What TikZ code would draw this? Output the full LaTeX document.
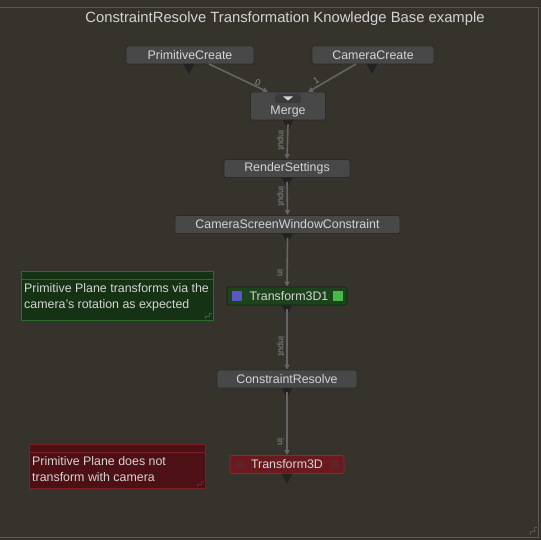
\documentclass[tikz,border=0pt]{standalone}
\usepackage{fontspec}
\setmainfont{Liberation Sans}
\usetikzlibrary{arrows.meta}
\definecolor{bgc}{HTML}{36332D}
\definecolor{framec}{HTML}{5A5750}
\definecolor{nodefill}{HTML}{484848}
\definecolor{nodeborder}{HTML}{2A2A2A}
\definecolor{txt}{HTML}{D4D4D4}
\definecolor{wirec}{HTML}{656565}
\definecolor{lblc}{HTML}{8C8C8C}
\definecolor{tric}{HTML}{222222}
\definecolor{greenfill}{HTML}{1C431C}
\definecolor{greenborder}{HTML}{0F290F}
\definecolor{rednodefill}{HTML}{6A1A1F}
\definecolor{rednodeborder}{HTML}{8E2A2F}
\definecolor{gnotefill}{HTML}{153215}
\definecolor{gnoteborder}{HTML}{2D6A2D}
\definecolor{rnotefill}{HTML}{4D1015}
\definecolor{rnoteborder}{HTML}{7A2126}
\tikzset{
  toolbox/.style={draw=nodeborder, line width=0.8pt, fill=nodefill, rounded corners=2pt,
    minimum height=18pt, inner sep=0pt, text=txt, font=\fontsize{12.4}{14}\selectfont},
  wire/.style={draw=wirec, line width=1.6pt, -{Triangle[length=5pt,width=5pt]}},
  wlabel/.style={text=lblc, font=\fontsize{9}{10}\selectfont, inner sep=0pt},
  notetxt/.style={text=txt, font=\fontsize{12.4}{16}\selectfont, align=left, anchor=north west, inner sep=0pt}
}
\begin{document}
\begin{tikzpicture}[x=1pt,y=-1pt]
\useasboundingbox (0,0) rectangle (541,540);
\fill[bgc] (0,0) rectangle (541,540);
% frame
\draw[framec, line width=1pt] (0,8) -- (538,8) -- (538,537) -- (0,537);
\draw[framec, line width=0.8pt] (530,535) -- (530,531) -- (534,531) -- (534,527) -- (537,527);
\node[text=txt, font=\fontsize{14.8}{17}\selectfont] (title) at (285,19) {ConstraintResolve Transformation Knowledge Base example};

% nodes
\node[toolbox, minimum width=128pt] (prim) at (190,55) {PrimitiveCreate};
\node[toolbox, minimum width=122pt] (cam) at (373,55) {CameraCreate};
\node[toolbox, minimum width=75pt, minimum height=28pt] (merge) at (288,106) {};
\node[text=txt, font=\fontsize{12.4}{14}\selectfont, inner sep=0pt] (mergelbl) at (288,112) {Merge};
\fill[black!20!nodefill, rounded corners=3pt] (275,94) rectangle (301,103);
\fill[txt] (283,96.5) -- (293,96.5) -- (288,100.5) -- cycle;
\node[toolbox, minimum width=126pt] (rs) at (287,168.5) {RenderSettings};
\node[toolbox, minimum width=225pt] (cswc) at (287.5,224.5) {CameraScreenWindowConstraint};
\node[toolbox, minimum width=120pt, fill=greenfill, draw=greenborder] (t3d1) at (287,296) {\hspace*{4pt}Transform3D1};
\fill[blue!45!gray!90] (232,291) rectangle (242,301);
\fill[green!45!gray] (333,291) rectangle (343,301);
\node[toolbox, minimum width=140pt] (cr) at (287,379) {ConstraintResolve};
\node[toolbox, minimum width=114pt, fill=rednodefill, draw=rednodeborder] (t3d) at (287,464.5) {Transform3D};
\fill[rednodefill!70!black!90!white, opacity=0.5] (236,459.5) rectangle (244,469.5);
\fill[rednodefill!70!black!90!white, opacity=0.5] (331,459.5) rectangle (339,469.5);

% output triangles
\foreach \x/\y in {189/64, 372/64, 288/120, 287/177.5, 287.5/233.5, 287/305, 287/388, 287/473.5}{
  \fill[tric] (\x-5.5,\y) -- (\x+5.5,\y) -- (\x,\y+10) -- cycle;
}

% wires
\coordinate (m0) at (268,92);
\coordinate (m1) at (308,92);
\draw[wire] (209,64) -- (m0);
\draw[wire] (356,64) -- (m1);
\node[wlabel, rotate=-25] (l0) at (258,83) {0};
\node[wlabel, rotate=32] (l1) at (316,81) {1};
\draw[wire] (merge.south) ++(0,4) -- (rs.north);
\draw[wire] (rs.south) ++(0,4) -- (cswc.north);
\draw[wire] (cswc.south) ++(0,4) -- (t3d1.north);
\draw[wire] (t3d1.south) ++(0,4) -- (cr.north);
\draw[wire] (cr.south) ++(0,4) -- (t3d.north);
\node[wlabel, rotate=-90] (li1) at (281,140) {input};
\node[wlabel, rotate=-90] (li2) at (281,196) {input};
\node[wlabel, rotate=-90] (li3) at (281,273) {in};
\node[wlabel, rotate=-90] (li4) at (281,346) {input};
\node[wlabel, rotate=-90] (li5) at (281,442) {in};

% notes
\draw[gnoteborder, fill=gnotefill, line width=0.8pt] (21,271) rectangle (213,320);
\draw[gnoteborder, line width=0.8pt] (21,279.5) -- (213,279.5);
\draw[gnoteborder, line width=0.6pt] (205,319) -- (205,316) -- (209,316) -- (209,313) -- (212,313);
\node[notetxt] (gnote) at (24,283) {Primitive Plane transforms via the\\camera's rotation as expected};

\draw[rnoteborder, fill=rnotefill, line width=0.8pt] (29,444) rectangle (205,488);
\draw[rnoteborder, line width=0.8pt] (29,452.5) -- (205,452.5);
\draw[rnoteborder, line width=0.6pt] (197,487) -- (197,484) -- (201,484) -- (201,481) -- (204,481);
\node[notetxt] (rnote) at (32,456) {Primitive Plane does not\\transform with camera};
\end{tikzpicture}
\end{document}
